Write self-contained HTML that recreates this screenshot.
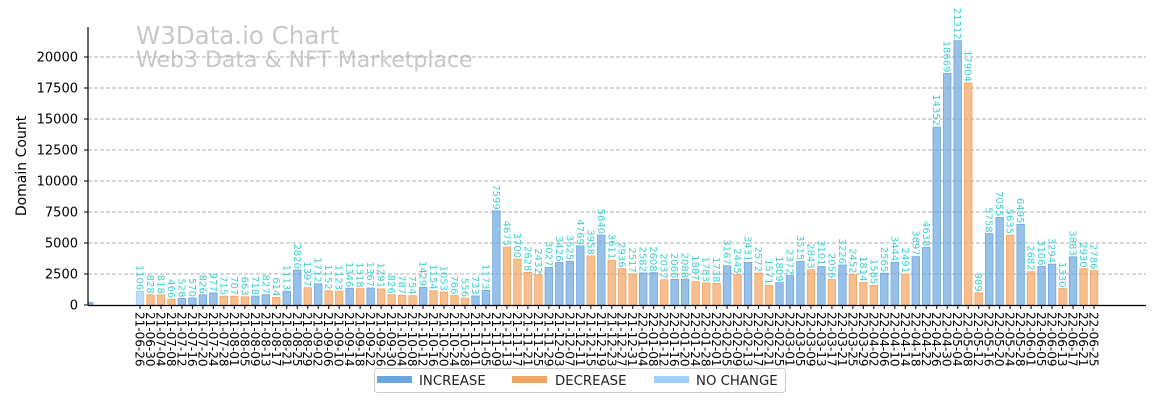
<!DOCTYPE html>
<html><head><meta charset="utf-8">
<style>
body{margin:0;background:#fff;width:1160px;height:400px;overflow:hidden;font-family:"DejaVu Sans","Liberation Sans",sans-serif;}
svg text{font-family:"DejaVu Sans","Liberation Sans",sans-serif;}
</style></head>
<body>
<svg id="chart" width="1160" height="400" xmlns="http://www.w3.org/2000/svg">
<text x="136" y="44" font-size="24.5" fill="#c8c8c8">W3Data.io Chart</text>
<text x="136" y="67" font-size="22" fill="#c8c8c8">Web3 Data &amp; NFT Marketplace</text>
<text transform="translate(26,166) rotate(-90)" text-anchor="middle" font-size="14" fill="#000">Domain Count</text>
<g id="grid"></g><g id="bars"></g><g id="vals"></g><g id="xt"></g><g id="yt"></g>
<line x1="88" y1="27" x2="88" y2="305.5" stroke="#000" stroke-width="1.2"/>
<line x1="88" y1="305.5" x2="1146" y2="305.5" stroke="#000" stroke-width="1.2"/>
<g>
<rect x="374.5" y="368.5" width="411" height="24" rx="3" fill="#fff" stroke="#ccc"/>
<rect x="377" y="376" width="35" height="7" fill="#6ca6e0"/>
<text x="419" y="385" font-size="13.3" fill="#222">INCREASE</text>
<rect x="512" y="376" width="35" height="7" fill="#f4a460"/>
<text x="555" y="385" font-size="13.3" fill="#222">DECREASE</text>
<rect x="654" y="376" width="35" height="7" fill="#a0d0fa"/>
<text x="696" y="385" font-size="13.3" fill="#222">NO CHANGE</text>
</g>
</svg>
<script>
const dates=["21-06-26","21-06-30","21-07-04","21-07-08","21-07-12","21-07-16","21-07-20","21-07-24","21-07-28","21-08-01","21-08-05","21-08-09","21-08-13","21-08-17","21-08-21","21-08-25","21-08-29","21-09-02","21-09-06","21-09-10","21-09-14","21-09-18","21-09-22","21-09-26","21-09-30","21-10-04","21-10-08","21-10-12","21-10-16","21-10-20","21-10-24","21-10-28","21-11-01","21-11-05","21-11-09","21-11-13","21-11-17","21-11-21","21-11-25","21-11-29","21-12-03","21-12-07","21-12-11","21-12-15","21-12-19","21-12-23","21-12-27","21-12-31","22-01-04","22-01-08","22-01-12","22-01-16","22-01-20","22-01-24","22-01-28","22-02-01","22-02-05","22-02-09","22-02-13","22-02-17","22-02-21","22-02-25","22-03-01","22-03-05","22-03-09","22-03-13","22-03-17","22-03-21","22-03-25","22-03-29","22-04-02","22-04-06","22-04-10","22-04-14","22-04-18","22-04-22","22-04-26","22-04-30","22-05-04","22-05-08","22-05-12","22-05-16","22-05-20","22-05-24","22-05-28","22-06-01","22-06-05","22-06-09","22-06-13","22-06-17","22-06-21","22-06-25"];
const counts=[1106,828,818,466,528,570,826,977,715,707,663,718,827,614,1113,2820,1397,1712,1152,1123,1346,1318,1367,1291,826,787,754,1429,1154,1053,766,556,733,1173,7599,4675,3700,2628,2432,3027,3426,3525,4769,3958,5640,3611,2936,2517,2582,2608,2037,2066,2088,1887,1783,1738,3167,2445,3431,2572,1571,1809,2372,3515,2843,3101,2056,3226,2452,1814,1585,2565,3444,2491,3897,4638,14352,18669,21312,17904,989,5758,7055,5635,6495,2682,3106,3294,1330,3883,2930,2786];
const priorCount=[250];
const yTicks=[0,2500,5000,7500,10000,12500,15000,17500,20000];
const NS="http://www.w3.org/2000/svg";
const y=v=>305-v*248/20000;
const x=i=>140+i*(1094-140)/91;
const BW=7.5;
function mk(t,a,p){const e=document.createElementNS(NS,t);for(const k in a)e.setAttribute(k,a[k]);p.appendChild(e);return e;}
const grid=document.getElementById('grid'),yt=document.getElementById('yt');
yTicks.forEach(v=>{
 if(v>0){const g=mk('line',{x1:88,x2:1146,y1:y(v),y2:y(v),stroke:'#b0b0b0','stroke-dasharray':'4,2','stroke-width':1},grid);
 
 }
 const tk=mk('line',{x1:84,x2:88,y1:y(v),y2:y(v),stroke:'#000'},yt);
 
 
 const t=mk('text',{x:78,y:y(v)+4.5,'text-anchor':'end','font-size':13,fill:'#000'},yt);t.textContent=v;
 
 
});
const bars=document.getElementById('bars'),vals=document.getElementById('vals'),xt=document.getElementById('xt');
const pb=mk('rect',{x:88.5,y:y(priorCount[0]),width:5,height:305-y(priorCount[0]),fill:'#6ca6e0','fill-opacity':0.8},bars);


dates.forEach((d,i)=>{
 const v=counts[i];let fill,stroke;
 if(i===0){fill='#a0d0fa';stroke='#a0d0fa';}
 else if(v>counts[i-1]){fill='#6ca6e0';stroke='#6ca6e0';}
 else if(v<counts[i-1]){fill='#f4a460';stroke='#f4a460';}
 else{fill='#a0d0fa';stroke='#a0d0fa';}
 const cx=x(i);
 const r=mk('rect',{x:cx-BW/2,y:y(v),width:BW,height:305-y(v),fill:fill,'fill-opacity':0.7,stroke:stroke,'stroke-width':0.8},bars);
 
 
 const t=mk('text',{transform:`translate(${cx-3.5},${y(v)-1}) rotate(90)`,'text-anchor':'end','font-size':10,fill:'#3fd0d0'},vals);t.textContent=v;
 
 
 const tk=mk('line',{x1:cx,x2:cx,y1:305,y2:309,stroke:'#000'},xt);
 
 
 const l=mk('text',{transform:`translate(${cx-4.5},312) rotate(90)`,'font-size':12,fill:'#000'},xt);l.textContent=d;
 
 
});
</script>
</body></html>
